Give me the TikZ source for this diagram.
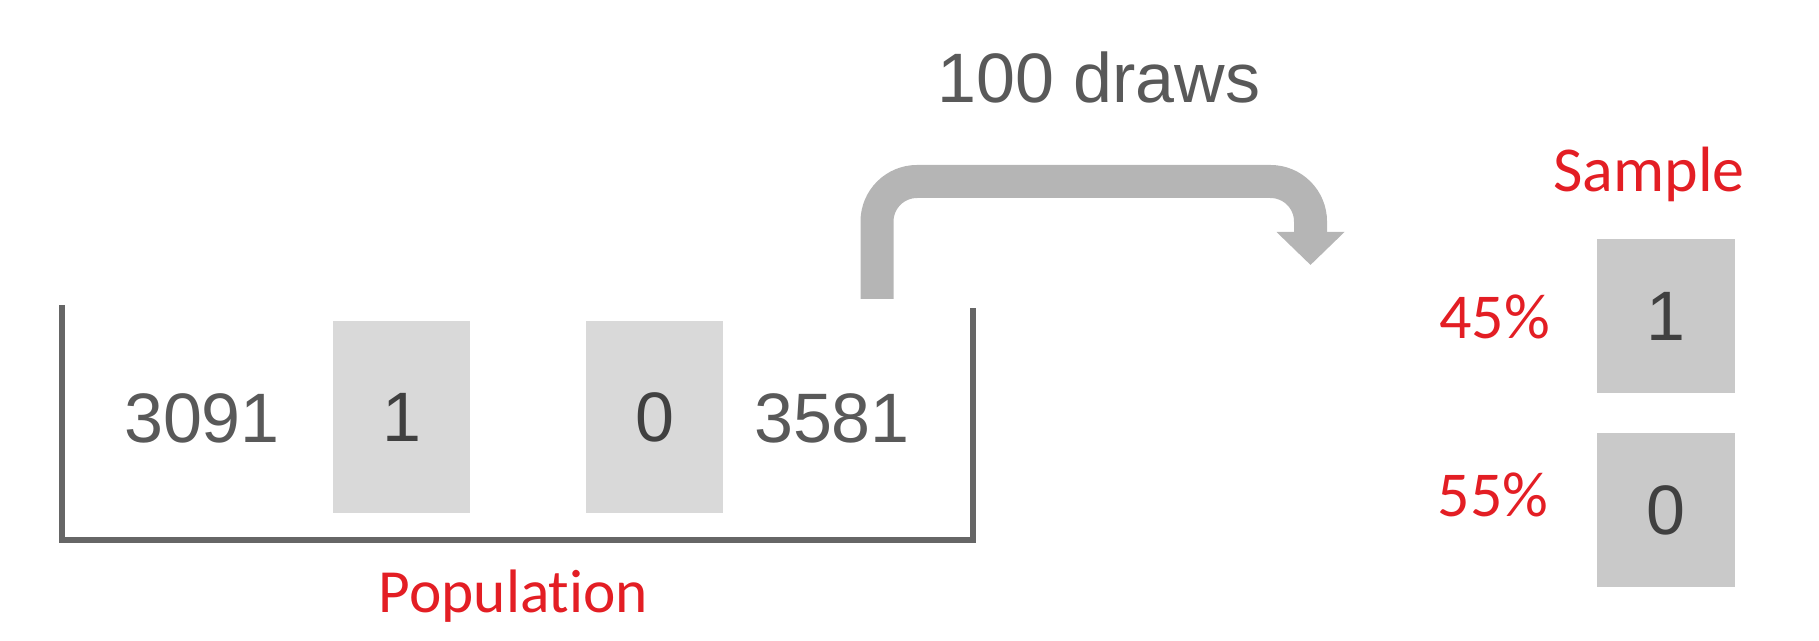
\documentclass[tikz,border=0pt]{standalone}
\usepackage{xcolor}
\usepackage{tikz}
\usepackage{fontspec}
\setmainfont{Liberation Sans}
\newfontfamily\labelfont[Ligatures=NoCommon]{Carlito}
\usetikzlibrary{arrows.meta,positioning}
\definecolor{NumGray}    {HTML}{595959}
\definecolor{DigitDark}  {HTML}{404040}
\definecolor{PopBoxBG}   {HTML}{D9D9D9}
\definecolor{SampBoxBG}  {HTML}{C9C9C9}
\definecolor{ArrowGray}  {HTML}{B5B5B5}
\definecolor{BucketGray} {HTML}{666666}
\definecolor{LabelRed}   {HTML}{E31E24}
\tikzset{
  digitbox/.style={minimum width=103pt,inner sep=0pt,text=DigitDark,
                   font=\fontsize{52.5}{60}\selectfont},
  popbox/.style={digitbox,fill=PopBoxBG,minimum height=144pt},
  samplebox/.style={digitbox,fill=SampBoxBG,minimum height=115.5pt},
  numtext/.style={text=NumGray,inner sep=0pt,font=\fontsize{52.5}{60}\selectfont},
  redlabel/.style={text=LabelRed,inner sep=0pt,anchor=base,
                   font=\labelfont\fontsize{48}{56}\selectfont},
  bucketline/.style={draw=BucketGray,line width=4.2pt,line join=miter},
  drawarrow/.style={draw=ArrowGray,line width=24.75pt,rounded corners=30pt,
                    -{Triangle[width=49.5pt,length=24.75pt]}}
}
\begin{document}
\begin{tikzpicture}[x=0.75pt,y=-0.75pt]
  \useasboundingbox (0,0) rectangle (1819,641);
  % population bucket
  \draw[bucketline] (62,305) -- (62,540) -- (973,540) -- (973,308);
  \node[numtext] (left) at (202,418.5) {3091};
  \node[popbox] (popone) at (401.5,417) {1};
  \node[popbox] (popzero) at (654.5,417) {0};
  \node[numtext] (right) at (832,418.5) {3581};
  \node[redlabel,font=\labelfont\fontsize{46}{54}\selectfont] (population) at (513.5,612) {Population};
  % drawing arrow
  \coordinate (drawstart) at (877,299);
  \coordinate (drawend) at (1310.5,265);
  \draw[drawarrow] (drawstart) -- (877,181.5) -| (drawend);
  \node[numtext] (draws) at (1099,77.5) {100 draws};
  % sample
  \node[redlabel] (sample) at (1649,192) {Sample};
  \node[samplebox] (sampone) at (1666,316) {1};
  \node[samplebox] (sampzero) at (1666,510) {0};
  \node[redlabel] (pctone) at (1494.5,339) {45\%};
  \node[redlabel] (pctzero) at (1493,516) {55\%};
\end{tikzpicture}
\end{document}
